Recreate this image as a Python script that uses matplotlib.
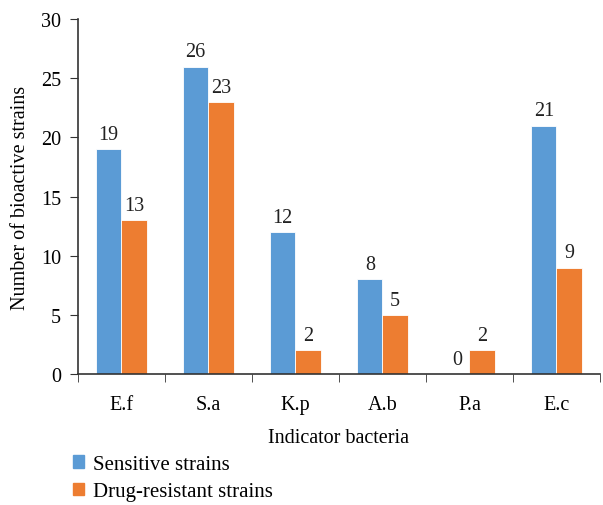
import matplotlib.pyplot as plt
import numpy as np
from matplotlib.patches import Patch

plt.rcParams["font.family"] = ["Liberation Serif", "DejaVu Serif"]

categories = ["E.f", "S.a", "K.p", "A.b", "P.a", "E.c"]
sensitive = [19, 26, 12, 8, 0, 21]
resistant = [13, 23, 2, 5, 2, 9]

blue = "#5B9BD5"
orange = "#ED7D31"

fig = plt.figure(figsize=(6.03, 5.06), dpi=100)
ax = fig.add_axes([0.129, 0.259, 0.866, 0.701])

x = np.arange(len(categories))
w = 0.29
b1 = ax.bar(x - w / 2, sensitive, w, color=blue, edgecolor="white", linewidth=0.6)
b2 = ax.bar(x + w / 2, resistant, w, color=orange, edgecolor="white", linewidth=0.6)

for bars, vals in ((b1, sensitive), (b2, resistant)):
    for r, v in zip(bars, vals):
        ax.text(r.get_x() + r.get_width() / 2, v + 0.45, str(v),
                ha="center", va="bottom", fontsize=14.5, color="#222222")

ax.set_xlim(-0.5, len(categories) - 0.5)
ax.set_ylim(0, 30)
ax.set_yticks(range(0, 31, 5))
ax.set_xticks(x)
ax.set_xticklabels(categories, fontsize=14.5)
ax.tick_params(axis="x", length=0, pad=15)
ax.set_xticks(np.arange(len(categories) + 1) - 0.5, minor=True)
ax.tick_params(axis="x", which="minor", length=6, direction="out", color="#333333")
ax.tick_params(axis="y", labelsize=14.5, length=6, direction="out", color="#333333", pad=6)

for s in ("top", "right"):
    ax.spines[s].set_visible(False)
for s in ("left", "bottom"):
    ax.spines[s].set_color("#333333")
    ax.spines[s].set_linewidth(1.2)

ax.set_xlabel("Indicator bacteria", fontsize=14.5, labelpad=10)
ax.set_ylabel("Number of bioactive strains", fontsize=14.5, labelpad=8)

handles = [Patch(color=blue, label="Sensitive strains"),
           Patch(color=orange, label="Drug-resistant strains")]
fig.legend(handles=handles, loc="lower left", bbox_to_anchor=(0.09, -0.03),
           frameon=False, fontsize=15, handlelength=0.55, handleheight=0.55,
           handletextpad=0.4, labelspacing=0.4)

fig.savefig("out.png", dpi=100)
